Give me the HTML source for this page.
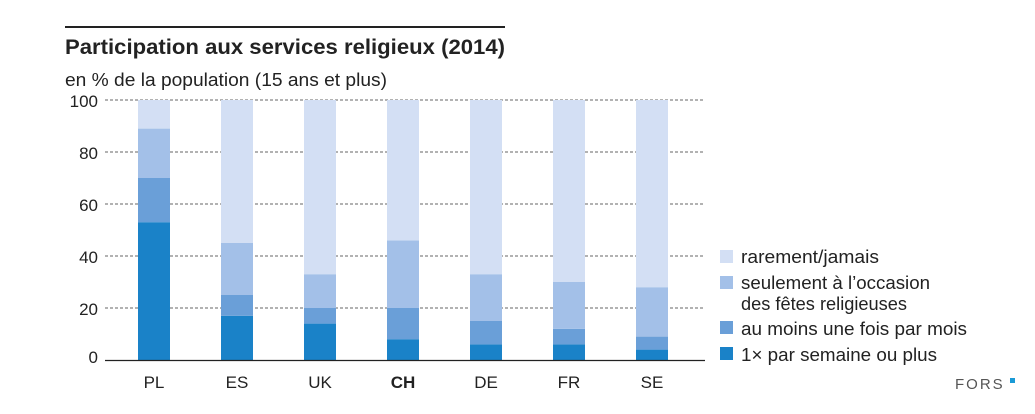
<!DOCTYPE html><html><head><style>body{margin:0;background:#fff}svg{display:block}text{font-family:"Liberation Sans",sans-serif;fill:#222}</style></head><body>
<svg width="1035" height="414" xmlns="http://www.w3.org/2000/svg">
<line x1="65" y1="27" x2="505" y2="27" stroke="#222" stroke-width="2"/>
<text x="65" y="54" font-size="21" font-weight="bold" textLength="440" lengthAdjust="spacingAndGlyphs">Participation aux services religieux (2014)</text>
<text x="65" y="86" font-size="18" textLength="322" lengthAdjust="spacingAndGlyphs">en % de la population (15 ans et plus)</text>
<g stroke="#666" stroke-width="1" stroke-dasharray="3,2">
<line x1="105" y1="100" x2="705" y2="100"/><line x1="105" y1="152" x2="705" y2="152"/><line x1="105" y1="204" x2="705" y2="204"/><line x1="105" y1="256" x2="705" y2="256"/><line x1="105" y1="308" x2="705" y2="308"/></g>
<g font-size="17" text-anchor="end"><text x="98" y="107">100</text><text x="98" y="159">80</text><text x="98" y="211">60</text><text x="98" y="263">40</text><text x="98" y="315">20</text><text x="98" y="363">0</text></g>
<g id="bars"></g>
<line x1="105" y1="360.5" x2="705" y2="360.5" stroke="#222" stroke-width="1.2"/>
<g font-size="17" text-anchor="middle"><text x="154" y="388">PL</text><text x="237" y="388">ES</text><text x="320" y="388">UK</text><text x="403" y="388" font-weight="bold">CH</text><text x="486" y="388">DE</text><text x="569" y="388">FR</text><text x="652" y="388">SE</text></g>
<rect x="720" y="250" width="13" height="13" fill="#d3dff4"/><rect x="720" y="276" width="13" height="13" fill="#a3c0e8"/><rect x="720" y="321" width="13" height="13" fill="#6a9fd8"/><rect x="720" y="347" width="13" height="13" fill="#1a82c8"/>
<g font-size="18"><text x="741" y="263" textLength="138" lengthAdjust="spacingAndGlyphs">rarement/jamais</text><text x="741" y="289" textLength="189" lengthAdjust="spacingAndGlyphs">seulement à l’occasion</text><text x="741" y="310" textLength="166" lengthAdjust="spacingAndGlyphs">des fêtes religieuses</text><text x="741" y="335" textLength="226" lengthAdjust="spacingAndGlyphs">au moins une fois par mois</text><text x="741" y="361" textLength="196" lengthAdjust="spacingAndGlyphs">1× par semaine ou plus</text></g>
<text x="955" y="389" font-size="15" letter-spacing="2" style="fill:#555">FORS</text>
<rect x="1010" y="378" width="5" height="5" fill="#1a9ad6"/>
</svg>
<script>
var d=[[53,70,89],[17,25,45],[14,20,33],[8,20,46],[6,15,33],[6,12,30],[4,9,28]];
var c=["#1a82c8","#6a9fd8","#a3c0e8","#d3dff4"],g=document.getElementById("bars"),s="";
d.forEach(function(v,i){var x=138+83*i,p=[0].concat(v,[100]);for(var k=0;k<4;k++){var y1=360-p[k+1]*2.6,y0=360-p[k]*2.6;s+='<rect x="'+x+'" y="'+y1+'" width="32" height="'+(y0-y1)+'" fill="'+c[k]+'"/>';}});
g.innerHTML=s;
</script>
</body></html>
